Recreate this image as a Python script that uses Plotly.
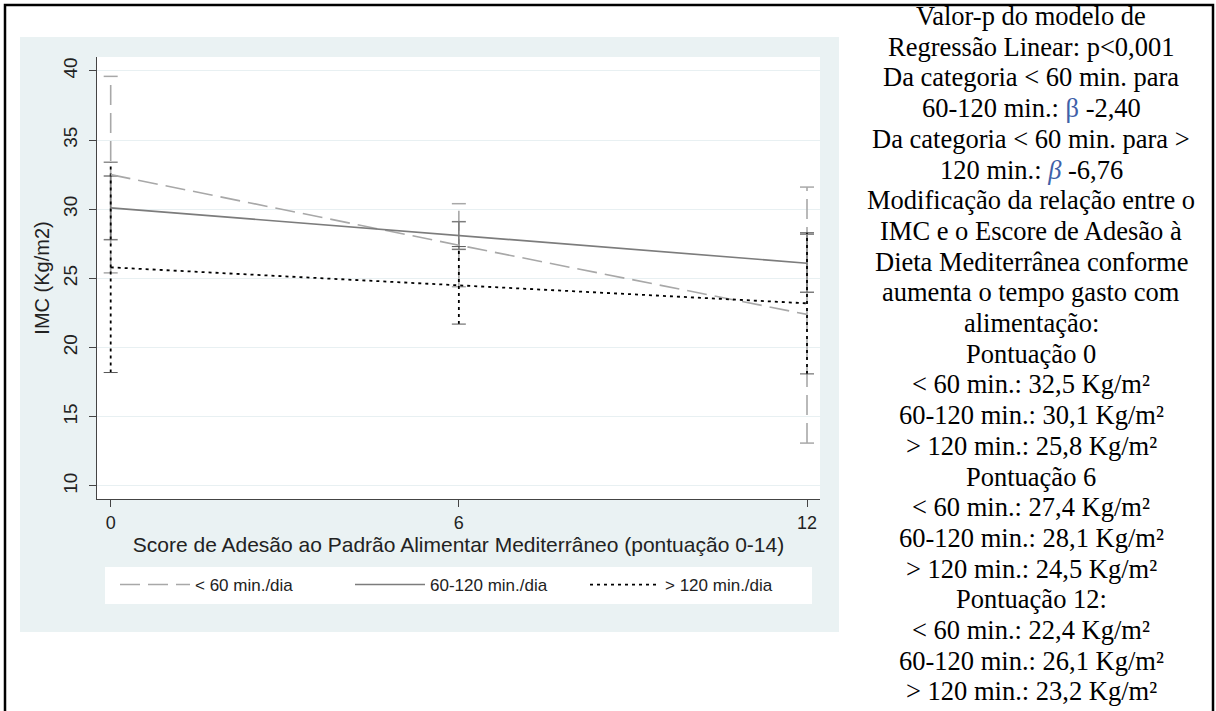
import plotly.graph_objects as go

# ---------------- data ----------------
x_scores = [0, 6, 12]
x_ticks = [0, 6, 12]
y_ticks = [10, 15, 20, 25, 30, 35, 40]
group_names = ["< 60 min./dia", "60-120 min./dia", "> 120 min./dia"]

mean_lt60 = [32.5, 27.4, 22.4]
lo_lt60 = [25.4, 24.4, 13.1]
hi_lt60 = [39.6, 30.4, 31.6]

mean_60_120 = [30.1, 28.1, 26.1]
lo_60_120 = [27.8, 27.1, 24.0]
hi_60_120 = [32.4, 29.1, 28.2]

mean_gt120 = [25.8, 24.5, 23.2]
lo_gt120 = [18.2, 21.7, 18.1]
hi_gt120 = [33.4, 27.3, 28.3]

side_lines = [
    "Valor-p do modelo de",
    "Regressão Linear: p<0,001",
    "Da categoria &lt; 60 min. para",
    "60-120 min.: <span style='color:#4060a8'>β</span> -2,40",
    "Da categoria &lt; 60 min. para &gt;",
    "120 min.: <i><span style='color:#4060a8'>β</span></i> -6,76",
    "Modificação da relação entre o",
    "IMC e o Escore de Adesão à",
    "Dieta Mediterrânea conforme",
    "aumenta o tempo gasto com",
    "alimentação:",
    "Pontuação 0",
    "&lt; 60 min.: 32,5 Kg/m²",
    "60-120 min.: 30,1 Kg/m²",
    "&gt; 120 min.: 25,8 Kg/m²",
    "Pontuação 6",
    "&lt; 60 min.: 27,4 Kg/m²",
    "60-120 min.: 28,1 Kg/m²",
    "&gt; 120 min.: 24,5 Kg/m²",
    "Pontuação 12:",
    "&lt; 60 min.: 22,4 Kg/m²",
    "60-120 min.: 26,1 Kg/m²",
    "&gt; 120 min.: 23,2 Kg/m²",
]

# ---------------- geometry helpers ----------------
W, H = 1216, 711
PL, PR, PT, PB = 97, 820, 57, 499   # plot area in pixels


def px2x(px):
    return (px - PL) / (PR - PL)


def py2y(py):
    return (PB - py) / (PB - PT)


series = [
    (group_names[0], mean_lt60, lo_lt60, hi_lt60,
     dict(color="#a8a8a8", width=1.6, dash="20px,8px"), "#a8a8a8", 1.5),
    (group_names[1], mean_60_120, lo_60_120, hi_60_120,
     dict(color="#7c7c7c", width=1.6, dash="solid"), "#7c7c7c", 1.5),
    (group_names[2], mean_gt120, lo_gt120, hi_gt120,
     dict(color="#000000", width=1.8, dash="3px,4px"), "#555555", 1.0),
]

fig = go.Figure()

for name, mean, lo, hi, st, capc, capw in series:
    ex, ey = [], []
    for xv, l, h in zip(x_scores, lo, hi):
        ex += [xv, xv, None]
        ey += [l, h, None]
    fig.add_trace(go.Scatter(x=ex, y=ey, mode="lines", line=st,
                             showlegend=False, hoverinfo="skip"))
    fig.add_trace(go.Scatter(x=x_scores + x_scores, y=lo + hi, mode="markers",
                             marker=dict(symbol="line-ew", size=10,
                                         line=dict(color=capc, width=capw)),
                             showlegend=False, hoverinfo="skip"))

for name, mean, lo, hi, st, capc, capw in series:
    fig.add_trace(go.Scatter(x=x_scores, y=mean, mode="lines", name=name, line=st))

shapes = [
    dict(type="rect", xref="paper", yref="paper",
         x0=px2x(20), x1=px2x(839), y0=py2y(632), y1=py2y(37),
         fillcolor="#eaf2f3", line=dict(width=0), layer="below"),
    dict(type="rect", xref="paper", yref="paper",
         x0=0, x1=1, y0=0, y1=1,
         fillcolor="white", line=dict(width=0), layer="below"),
    dict(type="rect", xref="paper", yref="paper",
         x0=px2x(105), x1=px2x(812), y0=py2y(604), y1=py2y(567),
         fillcolor="white", line=dict(width=0), layer="below"),
    dict(type="rect", xref="paper", yref="paper",
         x0=px2x(5), x1=px2x(1213), y0=py2y(725), y1=py2y(5),
         fillcolor="rgba(0,0,0,0)", line=dict(color="black", width=2.5), layer="above"),
]

annotations = []
for i, t in enumerate(side_lines):
    annotations.append(dict(
        text=t, xref="paper", yref="paper",
        x=px2x(1031), y=py2y(16 + 30.7 * i),
        xanchor="center", yanchor="middle", showarrow=False,
        font=dict(family="Liberation Serif", size=26.5, color="black"),
    ))

fig.update_layout(
    width=W, height=H,
    margin=dict(l=PL, r=W - PR, t=PT, b=H - PB, pad=0),
    paper_bgcolor="white", plot_bgcolor="white",
    font=dict(family="Liberation Sans", color="#222222"),
    shapes=shapes, annotations=annotations,
    showlegend=True,
    legend=dict(orientation="h", x=px2x(115), xanchor="left",
                y=py2y(567), yanchor="top", bgcolor="rgba(0,0,0,0)",
                font=dict(family="Liberation Sans", size=17, color="#222222"),
                itemwidth=70, entrywidth=150, borderwidth=0,
                itemclick=False, itemdoubleclick=False),
    xaxis=dict(range=[-0.236, 12.224], tickvals=x_ticks, ticktext=[str(v) for v in x_ticks],
               ticks="outside", ticklen=7, tickcolor="#444444", tickwidth=1,
               showline=True, linecolor="#444444", linewidth=1,
               showgrid=False, zeroline=False,
               tickfont=dict(size=18, color="#222222"),
               title=dict(text="Score de Adesão ao Padrão Alimentar Mediterrâneo (pontuação 0-14)",
                          font=dict(size=21, color="#222222"), standoff=4)),
    yaxis=dict(range=[9.06, 41.0], tickvals=y_ticks, ticktext=[str(v) for v in y_ticks],
               tickangle=-90, ticklabelstandoff=4,
               ticks="outside", ticklen=7, tickcolor="#444444", tickwidth=1,
               showline=True, linecolor="#444444", linewidth=1,
               showgrid=True, gridcolor="#e8f0f2", gridwidth=1.2, zeroline=False,
               tickfont=dict(size=19, color="#222222"),
               title=dict(text="IMC (Kg/m2)", font=dict(size=20, color="#222222"), standoff=5)),
)

fig.write_html("out.html", config={"displayModeBar": False},
               post_script="document.body.style.margin='0px';")
